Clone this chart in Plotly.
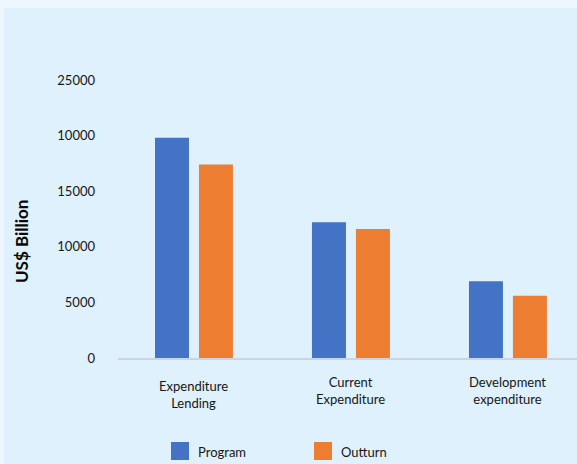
import plotly.graph_objects as go

# Data
categories = ["Expenditure Lending", "Current Expenditure", "Development expenditure"]
category_labels = ["Expenditure<br>Lending", "Current<br>Expenditure", "Development<br>expenditure"]
program = [19800, 12200, 6900]
outturn = [17400, 11600, 5600]
tick_values = [0, 5000, 10000, 15000, 20000, 25000]
tick_labels = ["0", "5000", "10000", "15000", "10000", "25000"]
series_names = ["Program", "Outturn"]

BLUE = "#4472c4"
ORANGE = "#ed7d31"
OUTER_BG = "#eef6fe"
INNER_BG = "#def1fc"
TEXT = "#161616"
FONT = "Lato"

W, H = 577, 464
M_L, M_R, M_T, M_B = 118, 0, 60, 106
PW, PH = W - M_L - M_R, H - M_T - M_B


def px(x):
    return (x - M_L) / PW


def py(y):
    return (H - M_B - y) / PH


fig = go.Figure()
fig.add_trace(go.Bar(x=list(range(len(categories))), y=program, name=series_names[0],
                     marker=dict(color=BLUE, line=dict(width=0)), hovertext=categories))
fig.add_trace(go.Bar(x=list(range(len(categories))), y=outturn, name=series_names[1],
                     marker=dict(color=ORANGE, line=dict(width=0)), hovertext=categories))

shapes = [
    # inner panel
    dict(type="rect", xref="paper", yref="paper", x0=px(4), x1=px(W + 2), y0=py(8), y1=py(H + 2),
         fillcolor=INNER_BG, line=dict(width=0), layer="below"),
]
annotations = []

# category labels under the axis
label_drop = [18, 14, 14]
for i, lab in enumerate(category_labels):
    annotations.append(dict(x=i, y=0, xref="x", yref="paper", text=lab, showarrow=False,
                            xanchor="center", yanchor="top", yshift=-label_drop[i],
                            font=dict(family=FONT, size=13, color=TEXT), align="center"))

# y-axis title
annotations.append(dict(x=px(21), y=py(242), xref="paper", yref="paper", text="<b>US$ Billion</b>",
                        showarrow=False, textangle=-90, xanchor="center", yanchor="middle",
                        font=dict(family=FONT, size=17, color="#0a0a0a")))

# legend drawn as swatches + labels
legend_pos = [(171, 442), (314, 442)]
for (lx, ly), name, col in zip(legend_pos, series_names, [BLUE, ORANGE]):
    shapes.append(dict(type="rect", xref="paper", yref="paper", x0=px(lx), x1=px(lx + 18),
                       y0=py(ly + 18), y1=py(ly), fillcolor=col, line=dict(width=0)))
    annotations.append(dict(x=px(lx + 25), y=py(ly + 10), xref="paper", yref="paper", text=name,
                            showarrow=False, xanchor="left", yanchor="middle",
                            font=dict(family=FONT, size=13, color=TEXT)))

fig.update_layout(
    width=W, height=H,
    margin=dict(l=M_L, r=M_R, t=M_T, b=M_B, pad=0),
    paper_bgcolor=OUTER_BG,
    plot_bgcolor="rgba(0,0,0,0)",
    barmode="group",
    bargap=0.44,
    bargroupgap=0.227,
    showlegend=False,
    shapes=shapes,
    annotations=annotations,
    font=dict(family=FONT, size=13, color=TEXT),
    xaxis=dict(range=[-0.484, 2.44], showticklabels=False, ticks="", showgrid=False,
               zeroline=False, showline=True, linecolor="#c9d6e2", linewidth=2,
               fixedrange=True),
    yaxis=dict(range=[0, 26800], tickvals=tick_values, ticktext=tick_labels, ticks="",
               showgrid=False, zeroline=False, showline=False, ticklabelstandoff=22,
               tickfont=dict(family=FONT, size=13, color=TEXT), fixedrange=True),
)

fig.write_html("out.html")
